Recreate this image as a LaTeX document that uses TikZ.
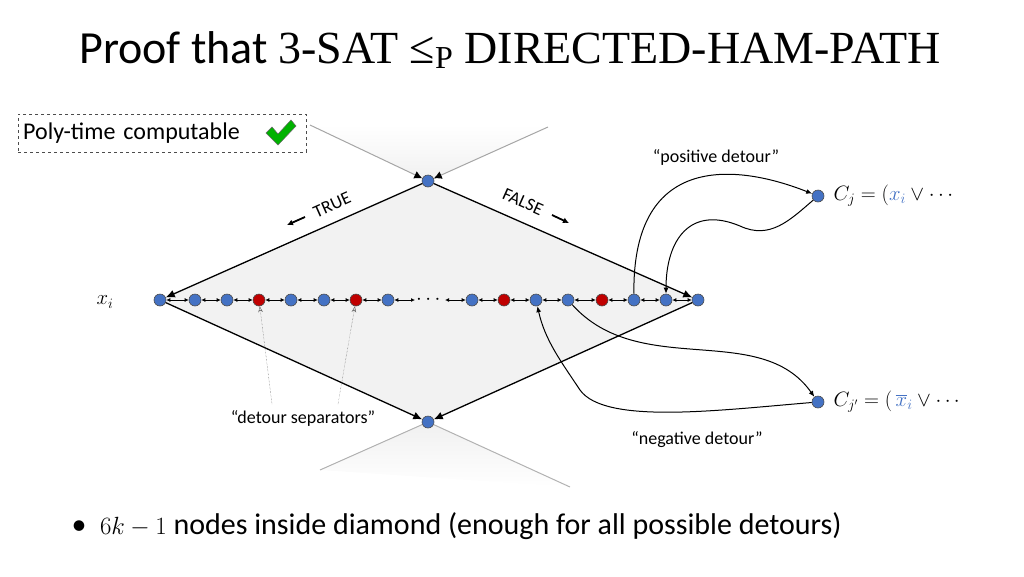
\documentclass[tikz,border=0pt]{standalone}
\usepackage{amsmath,amssymb}
\usepackage{fontspec}
\setmainfont{Carlito}
\newfontfamily\serifT{Liberation Serif}
\usetikzlibrary{arrows.meta,fadings,calc}
\definecolor{nblue}{RGB}{68,114,196}
\definecolor{nred}{RGB}{192,0,0}
\definecolor{mblue}{RGB}{68,114,196}
\begin{document}
\begin{tikzpicture}[x=1pt,y=-1pt,
  v/.style={circle,draw=black!70,fill=nblue,inner sep=0pt,minimum size=12pt,line width=0.6pt},
  r/.style={v,fill=nred},
  dbl/.style={{Latex[length=4pt,width=4pt]}-{Latex[length=4pt,width=4pt]},line width=0.9pt},
  edge/.style={-{Latex[length=9pt,width=8pt]},line width=1.3pt},
  det/.style={-{Latex[length=6pt,width=5pt]},line width=1pt},
  lbl/.style={font=\fontsize{18}{21}\selectfont},
  mlbl/.style={font=\fontsize{20}{24}\selectfont}]
\useasboundingbox (0,0) rectangle (1024,576);
% title
\node (title) at (510,50) {\fontsize{46}{52}\selectfont Proof that {\serifT 3-SAT ≤\raisebox{-0.25ex}{\fontsize{32}{32}\selectfont P} DIRECTED-HAM-PATH}};
% box
\node[draw=black!70,dashed,fill=white,anchor=west,minimum height=38pt,minimum width=288pt,text width=278pt,align=left,font=\fontsize{24}{28}\selectfont] (box) at (18,133) {Poly-time computable};
\fill[green!70!black,draw=black!60,line width=0.5pt] (266,133) -- (272,127) -- (278,134) -- (291,120) -- (296,126) -- (278,145) -- cycle;
% faded wedges
\fill[gray!12,path fading=north] (310,125) -- (428,181) -- (548,127) -- cycle;
\fill[gray!12,path fading=south] (320,470) -- (428,422) -- (570,487) -- cycle;
\fill[gray!10] (160,300) -- (428,181) -- (698,300) -- (428,422) -- cycle;
% main nodes
\node[v] (top) at (428,181) {};
\node[v] (bot) at (428,422) {};
\node[v] (L) at (160,300) {};
\node[v] (R) at (698,300) {};
\node[mlbl] (xi) at (105,302) {$x_i$};
% faded incoming lines
\coordinate (tl) at (310,125); \coordinate (tr) at (548,127);
\coordinate (bl) at (320,470); \coordinate (br) at (570,487);
\draw[gray!70,line width=1pt,-{Latex[length=8pt,width=8pt,color=black]}] (tl) -- (top);
\draw[gray!70,line width=1pt,-{Latex[length=8pt,width=8pt,color=black]}] (tr) -- (top);
\draw[gray!60,line width=1pt] (bot) -- (bl);
\draw[gray!60,line width=1pt] (bot) -- (br);
% diamond edges
\draw[edge] (top) -- (L);
\draw[edge] (top) -- (R);
\draw[edge] (L) -- (bot);
\draw[edge] (R) -- (bot);
% row
\foreach \n/\x/\s in {a/195/v,b/227/v,c/259/r,d/291/v,e/324/v,f/356/r,g/388/v,h/472/v,i/504/r,j/536/v,k/568/v,l/602/r,m/634/v,o/666/v}
  \node[\s] (\n) at (\x,300) {};
\node[mlbl] (dots) at (430,300) {$\cdots$};
\coordinate (d1) at (415,300); \coordinate (d2) at (445,300);
\draw[dbl] (L) -- (a);
\foreach \p/\q in {a/b,b/c,c/d,d/e,e/f,f/g,h/i,i/j,j/k,k/l,l/m,m/o,o/R}
  \draw[dbl] (\p) -- (\q);
\draw[dbl] (g) -- (d1);
\draw[dbl] (d2) -- (h);
% TRUE / FALSE
\node[rotate=24,lbl] (true) at (332,205) {TRUE};
\node[rotate=-24,lbl] (false) at (523,202) {FALSE};
\draw[-{Latex[length=6pt,width=6pt]},line width=1.8pt] ($(true)+(-27,12)$) -- ($(true)+(-45,20)$);
\draw[-{Latex[length=6pt,width=6pt]},line width=1.8pt] ($(false)+(29,13)$) -- ($(false)+(46,21)$);
% clause nodes
\node[v] (Cj) at (818,196) {};
\node[v] (Cjp) at (818,402) {};
\node[mlbl,anchor=west] (cjl) at (830,196) {$C_j=(\textcolor{mblue}{x_i}\lor\cdots$};
\node[mlbl,anchor=west] (cjpl) at (830,402) {$C_{j'}=(\,\textcolor{mblue}{\overline{x}_i}\lor\cdots$};
% detours
\draw[det] (m) .. controls (632,150) and (740,165) .. (Cj);
\coordinate (pm) at (740,226);
\draw[det] (Cj) .. controls (790,220) and (770,240) .. (pm) .. controls (690,205) and (666,240) .. (o);
\draw[det] (k) .. controls (640,380) and (760,320) .. (Cjp);
\coordinate (nm) at (580,390);
\draw[det] (Cjp) .. controls (720,410) and (605,425) .. (nm) .. controls (560,360) and (545,340) .. (j);
\node[lbl] (pos) at (716,157) {“positive detour”};
\node[lbl] (neg) at (697,440) {“negative detour”};
% separators
\node[lbl] (sep) at (303,418) {“detour separators”};
\draw[densely dotted,gray!70!black,-{Stealth[open,length=6pt]}] (272,404) -- (c);
\draw[densely dotted,gray!70!black,-{Stealth[open,length=6pt]}] (338,404) -- (f);
% bullet
\node[anchor=west,font=\fontsize{30}{34}\selectfont] (bul) at (68,526) {\textbullet\ \ $6k-1$ nodes inside diamond (enough for all possible detours)};
\end{tikzpicture}
\end{document}
